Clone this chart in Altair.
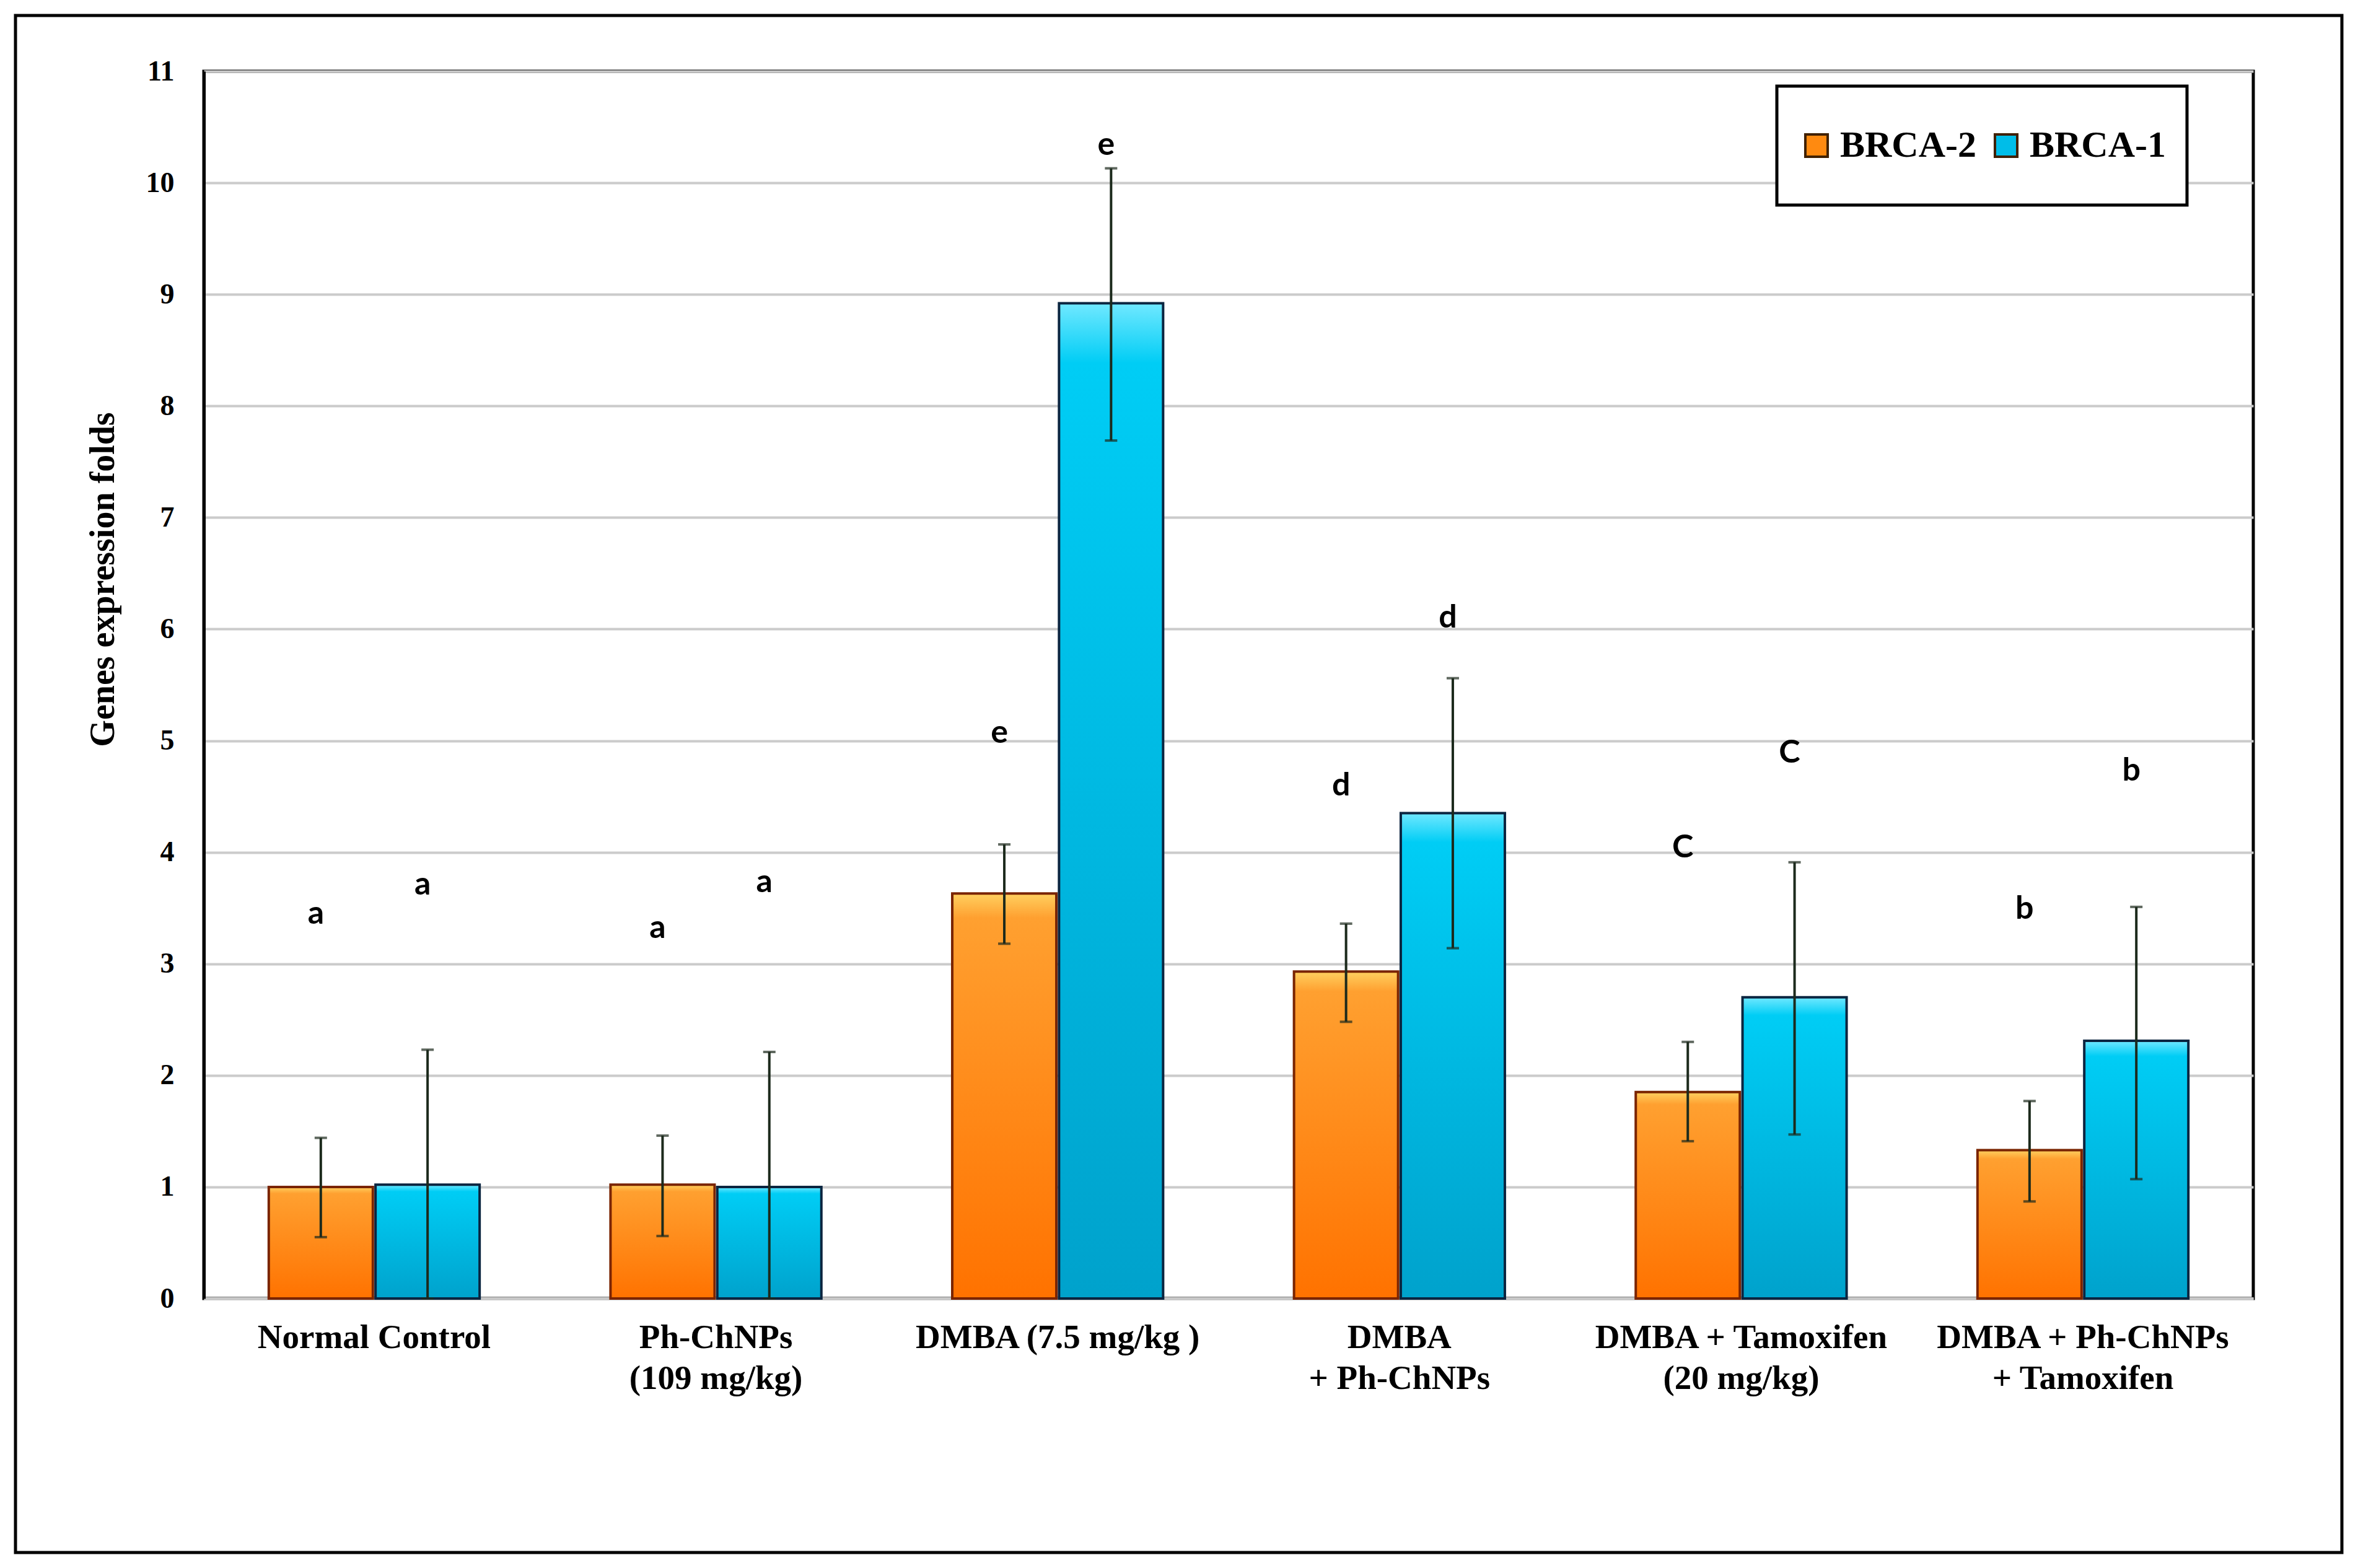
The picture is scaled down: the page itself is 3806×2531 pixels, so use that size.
import altair as alt
import pandas as pd

categories = [
    "Normal Control",
    "Ph-ChNPs|(109 mg/kg)",
    "DMBA (7.5 mg/kg )",
    "DMBA|+ Ph-ChNPs",
    "DMBA + Tamoxifen|(20 mg/kg)",
    "DMBA + Ph-ChNPs|+ Tamoxifen",
]
series = ["BRCA-2", "BRCA-1"]

brca2_mean = [1.00, 1.02, 3.63, 2.93, 1.85, 1.33]
brca2_low = [0.55, 0.56, 3.18, 2.48, 1.41, 0.87]
brca2_high = [1.44, 1.46, 4.07, 3.36, 2.30, 1.77]
brca2_letter = ["a", "a", "e", "d", "C", "b"]
brca2_letter_y = [3.45, 3.32, 5.07, 4.60, 4.04, 3.49]

brca1_mean = [1.02, 1.00, 8.92, 4.35, 2.70, 2.31]
brca1_low = [0.00, 0.00, 7.69, 3.14, 1.47, 1.07]
brca1_high = [2.23, 2.21, 10.13, 5.56, 3.91, 3.51]
brca1_letter = ["a", "a", "e", "d", "C", "b"]
brca1_letter_y = [3.71, 3.73, 10.34, 6.10, 4.89, 4.73]

y_ticks = list(range(0, 12))

rows = []
for i, c in enumerate(categories):
    rows.append(dict(cat=c, series="BRCA-2", mean=brca2_mean[i], low=brca2_low[i],
                     high=brca2_high[i], letter=brca2_letter[i], ly=brca2_letter_y[i]))
    rows.append(dict(cat=c, series="BRCA-1", mean=brca1_mean[i], low=brca1_low[i],
                     high=brca1_high[i], letter=brca1_letter[i], ly=brca1_letter_y[i]))
df = pd.DataFrame(rows)

SERIF = "Liberation Serif"
SANS = "Lato"

W, H = 3308, 1981

x_enc = alt.X(
    "cat:N", sort=categories,
    scale=alt.Scale(paddingInner=0.383, paddingOuter=0.19),
    axis=alt.Axis(
        title=None, labelAngle=0, ticks=False, domain=True, domainColor="#c8c8c8",
        domainWidth=5, labelFont=SERIF, labelFontWeight="bold", labelFontSize=55,
        labelColor="black", labelPadding=36, labelLineHeight=66, labelLimit=0,
        labelExpr="split(datum.label, '|')", labelBaseline="top",
    ),
)
xo_enc = alt.XOffset("series:N", sort=series,
                     scale=alt.Scale(domain=series, paddingInner=0.025))

y_scale = alt.Scale(domain=[0, 11], nice=False)
y_axis = alt.Axis(
    title="Genes expression folds", values=y_ticks, format="d", ticks=False, domain=True,
    domainColor="black", domainWidth=5, grid=True, gridColor="#cbcbcb", gridWidth=4,
    labelFont=SERIF, labelFontWeight="bold", labelFontSize=46, labelColor="black",
    labelPadding=48, titleFont=SERIF, titleFontWeight="bold", titleFontSize=56,
    titleColor="black", titleX=-163, titleY=820, titleAlign="center",
    titleBaseline="middle", titleAngle=270,
)

base = alt.Chart(df)

solid = base.mark_bar(strokeWidth=4).encode(
    x=x_enc, xOffset=xo_enc,
    y=alt.Y("mean:Q", scale=y_scale, axis=y_axis),
    color=alt.Color(
        "series:N", sort=series,
        scale=alt.Scale(domain=series, range=["#ff8a10", "#00bde8"]),
        legend=alt.Legend(
            title=None, orient="none", legendX=2539, legendY=24, direction="horizontal",
            symbolType="square", symbolSize=1300, symbolStrokeWidth=4,
            symbolStrokeColor="#402000", labelFont=SERIF, labelFontWeight="bold",
            labelFontSize=60, labelColor="black", labelLimit=0, columnPadding=18,
            symbolOffset=0, labelOffset=8, padding=34, strokeColor="black",
            fillColor="white", cornerRadius=0, clipHeight=124,
        ),
    ),
)


def grad(top, mid, bottom):
    return alt.Gradient(
        gradient="linear",
        stops=[alt.GradientStop(color=top, offset=0),
               alt.GradientStop(color=mid, offset=0.06),
               alt.GradientStop(color=bottom, offset=1)],
        x1=0, x2=0, y1=0, y2=1,
    )


orange_bars = base.transform_filter(alt.datum.series == "BRCA-2").mark_bar(
    color=grad("#ffd060", "#ffa030", "#ff7200"), stroke="#7a2400", strokeWidth=4
).encode(x=x_enc, xOffset=xo_enc, y=alt.Y("mean:Q", scale=y_scale))

blue_bars = base.transform_filter(alt.datum.series == "BRCA-1").mark_bar(
    color=grad("#70e8ff", "#00cdf5", "#00a2cc"), stroke="#0b2540", strokeWidth=4
).encode(x=x_enc, xOffset=xo_enc, y=alt.Y("mean:Q", scale=y_scale))

err = base.mark_rule(color="#1c2a1c", strokeWidth=4).encode(
    x=x_enc, xOffset=xo_enc, y=alt.Y("low:Q", scale=y_scale), y2="high:Q"
)
cap_hi = base.mark_tick(color="#1c2a1c", size=20, thickness=4).encode(
    x=x_enc, xOffset=xo_enc, y=alt.Y("high:Q", scale=y_scale)
)
cap_lo = base.mark_tick(color="#1c2a1c", size=20, thickness=4).encode(
    x=x_enc, xOffset=xo_enc, y=alt.Y("low:Q", scale=y_scale)
)

letters = base.mark_text(
    font=SANS, fontWeight="bold", fontSize=52, color="black", baseline="middle",
    align="center", dx=-8,
).encode(x=x_enc, xOffset=xo_enc, y=alt.Y("ly:Q", scale=y_scale), text="letter:N")

frame = alt.Chart(pd.DataFrame({"k": [0]})).mark_rect(
    fill="transparent", stroke="black", strokeWidth=5
).encode(
    x=alt.value(-304), x2=alt.value(3451), y=alt.value(-90), y2=alt.value(2391)
)

chart = alt.layer(
    frame, solid, orange_bars, blue_bars, err, cap_hi, cap_lo, letters
).properties(
    width=W, height=H, padding=14, background="white"
).configure_view(
    stroke="black", strokeWidth=5
).configure_legend(
    strokeWidth=5
)

chart.save("out.html", embed_options={"renderer": "svg", "actions": False})
